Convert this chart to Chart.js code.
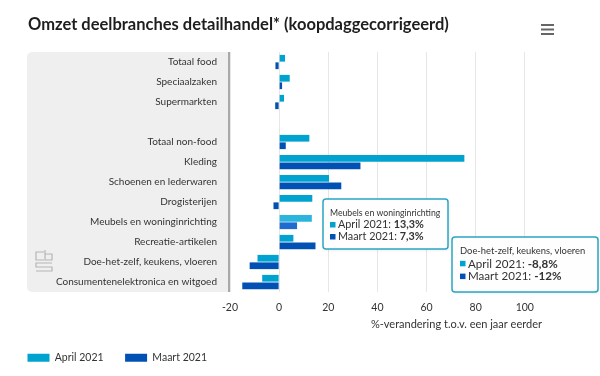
<!DOCTYPE html>
<html>
<head>
<meta charset="utf-8">
<script src="https://cdn.jsdelivr.net/npm/chart.js@4.4.0/dist/chart.umd.min.js"></script>
<style>
  html, body { margin: 0; padding: 0; background: #fff; }
  #wrap { width: 600px; height: 376px; position: relative; }
</style>
</head>
<body>
<div id="wrap"><canvas id="omzetChart"></canvas></div>
<script>
var categories = [
  "Totaal food",
  "Speciaalzaken",
  "Supermarkten",
  "",
  "Totaal non-food",
  "Kleding",
  "Schoenen en lederwaren",
  "Drogisterijen",
  "Meubels en woninginrichting",
  "Recreatie-artikelen",
  "Doe-het-zelf, keukens, vloeren",
  "Consumentenelektronica en witgoed"
];
var april2021 = [2.4, 4.3, 2.0, null, 12.3, 75.4, 20.3, 13.5, 13.3, 5.8, -8.8, -6.9];
var maart2021 = [-1.5, 1.2, -1.6, null, 2.7, 33.1, 25.3, -2.3, 7.3, 14.8, -12, -15];
var xTicks = [-20, 0, 20, 40, 60, 80, 100];
var tooltipRows = [8, 10];

var colApril = "#00a2cf";
var colMaart = "#0151b5";

Chart.defaults.font.family = "Lato, 'Open Sans', sans-serif";
Chart.defaults.color = "#333";

function fmt(v) {
  return String(v).replace(".", ",") + "%";
}

var panelPlugin = {
  id: "panel",
  beforeDraw: function (chart) {
    var ctx = chart.ctx, a = chart.chartArea;
    ctx.save();
    ctx.fillStyle = "#efefef";
    ctx.beginPath();
    ctx.roundRect(27, a.top, a.left - 27, a.bottom - a.top, [5, 0, 0, 5]);
    ctx.fill();
    ctx.fillStyle = "#a9a9a9";
    ctx.fillRect(a.left - 2, a.top, 2, a.bottom - a.top);
    ctx.restore();
  }
};

var decorPlugin = {
  id: "decor",
  afterDraw: function (chart) {
    var ctx = chart.ctx;
    ctx.save();
    // title
    ctx.fillStyle = "#1e1e1e";
    ctx.font = "bold 16.5px Lato, sans-serif";
    ctx.textBaseline = "middle";
    ctx.textAlign = "left";
    ctx.fillText("Omzet deelbranches detailhandel* (koopdaggecorrigeerd)", 28, 25);
    // menu icon
    ctx.fillStyle = "#666";
    [25, 29.5, 34].forEach(function (y) { ctx.fillRect(541, y - 1, 13, 2); });
    // logo
    ctx.strokeStyle = "#b5b5b5";
    ctx.lineWidth = 1.2;
    ctx.beginPath();
    ctx.moveTo(44, 252); ctx.lineTo(36, 252); ctx.lineTo(36, 260); ctx.lineTo(44, 260);
    ctx.moveTo(45, 250); ctx.lineTo(45, 260); ctx.lineTo(52, 260); ctx.lineTo(52, 254); ctx.lineTo(45, 254);
    ctx.moveTo(52, 263); ctx.lineTo(36, 263); ctx.lineTo(36, 267); ctx.lineTo(52, 267); ctx.lineTo(52, 271); ctx.lineTo(36, 271);
    ctx.stroke();
    ctx.restore();

    // static tooltips
    var boxes = [
      { x: 323, y: 199, w: 125, h: 50, head: 8.7, line: 10.8, pad: 7, gap: 12 },
      { x: 452, y: 237, w: 146, h: 55, head: 9.4, line: 11.6, pad: 8, gap: 12.8 }
    ];
    tooltipRows.forEach(function (idx, k) {
      var b = boxes[k];
      ctx.save();
      ctx.shadowColor = "rgba(0,0,0,0.12)";
      ctx.shadowBlur = 3;
      ctx.shadowOffsetX = 1;
      ctx.shadowOffsetY = 1;
      ctx.fillStyle = "rgba(255,255,255,0.95)";
      ctx.beginPath();
      ctx.roundRect(b.x, b.y, b.w, b.h, 3);
      ctx.fill();
      ctx.shadowColor = "transparent";
      ctx.strokeStyle = "#2aa7c4";
      ctx.lineWidth = 1.5;
      ctx.stroke();
      ctx.textBaseline = "middle";
      ctx.textAlign = "left";
      ctx.fillStyle = "#333";
      ctx.font = b.head + "px Lato, sans-serif";
      var y0 = b.y + 14;
      ctx.fillText(categories[idx], b.x + b.pad, y0);
      var rows = [["April 2021", april2021[idx], colApril], ["Maart 2021", maart2021[idx], colMaart]];
      rows.forEach(function (r, j) {
        var y = y0 + b.gap * (j + 1);
        ctx.fillStyle = r[2];
        ctx.fillRect(b.x + b.pad, y - 3, 5.5, 5.5);
        ctx.fillStyle = "#333";
        ctx.font = b.line + "px Lato, sans-serif";
        var lab = r[0] + ": ";
        ctx.fillText(lab, b.x + b.pad + 8, y);
        var w = ctx.measureText(lab).width;
        ctx.font = "bold " + b.line + "px Lato, sans-serif";
        ctx.fillText(fmt(r[1]), b.x + b.pad + 8 + w, y);
      });
      ctx.restore();
    });
  }
};

var aprilColors = categories.map(function (c, i) { return i === 8 ? "#2bb4dc" : colApril; });
var maartColors = categories.map(function (c, i) { return i === 8 ? "#1f6bd0" : colMaart; });

var chartCtx = document.getElementById("omzetChart").getContext("2d");
var omzetChart = new Chart(chartCtx, {
  type: "bar",
  data: {
    labels: categories,
    datasets: [
      {
        label: "April 2021",
        data: april2021,
        backgroundColor: aprilColors,
        categoryPercentage: 0.75,
        barPercentage: 0.9
      },
      {
        label: "Maart 2021",
        data: maart2021,
        backgroundColor: maartColors,
        categoryPercentage: 0.75,
        barPercentage: 0.9
      }
    ]
  },
  options: {
    indexAxis: "y",
    responsive: true,
    maintainAspectRatio: false,
    animation: false,
    layout: {
      padding: { top: 52, right: 58, bottom: 3, left: 6 }
    },
    scales: {
      x: {
        min: -20,
        max: 107,
        afterBuildTicks: function (scale) {
          scale.ticks = xTicks.map(function (v) { return { value: v }; });
        },
        afterFit: function (scale) { scale.height = 39; },
        grid: { color: "#e6e6e6", drawTicks: false },
        border: { display: false },
        ticks: { padding: 9, color: "#333", font: { size: 10.5 } },
        title: {
          display: true,
          align: "end",
          text: "%-verandering t.o.v. een jaar eerder",
          color: "#333",
          font: { size: 11 },
          padding: { top: 4, bottom: 0 }
        }
      },
      y: {
        grid: { display: false, drawTicks: false },
        border: { display: false },
        ticks: { padding: 13, color: "#333", font: { size: 10 } },
        afterFit: function (scale) { scale.width = 224; }
      }
    },
    plugins: {
      legend: {
        position: "bottom",
        align: "start",
        labels: {
          boxWidth: 22,
          boxHeight: 8,
          padding: 21.5,
          color: "#333",
          font: { size: 10.5 }
        }
      },
      tooltip: { enabled: false }
    }
  },
  plugins: [panelPlugin, decorPlugin]
});
</script>
</body>
</html>
